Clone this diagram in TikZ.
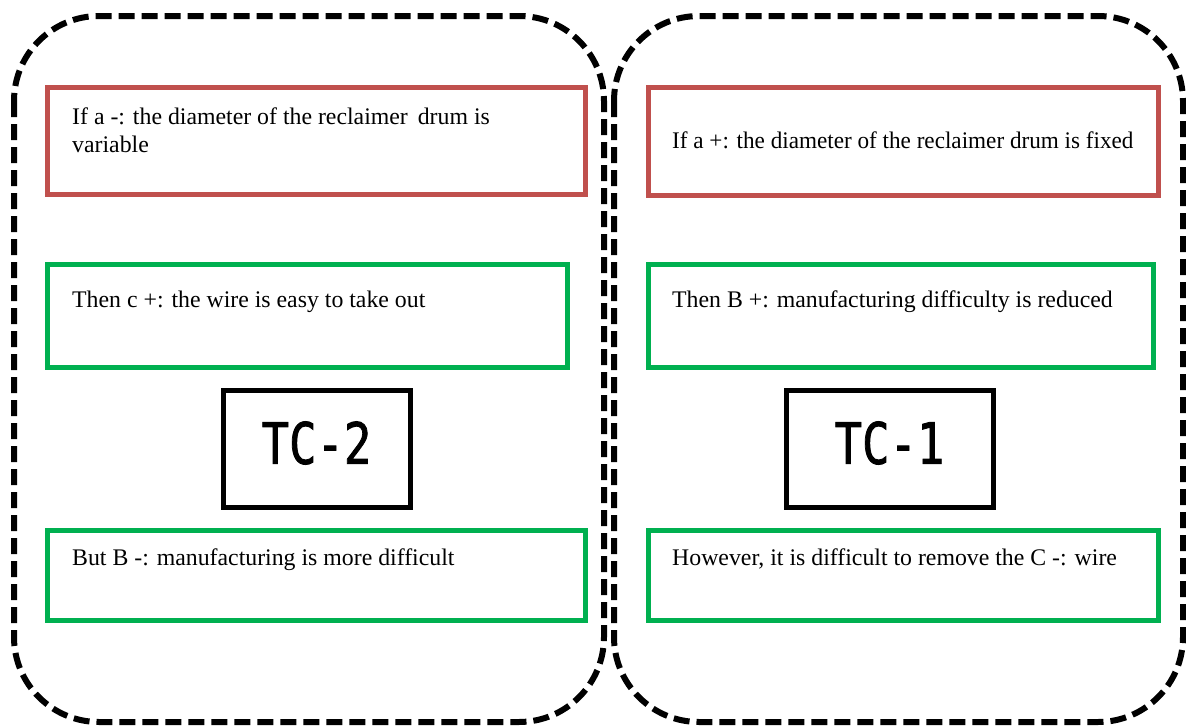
\documentclass[tikz,border=0pt]{standalone}
\usepackage{fontspec}
\setmainfont{Liberation Serif}
\newfontfamily\tcfont[FakeBold=1.6]{DejaVu Sans Mono}
\definecolor{ifred}{HTML}{C0504D}
\definecolor{thengreen}{HTML}{00B050}
\tikzset{
  group/.style={draw=black, line width=6pt, dash pattern=on 16pt off 7pt, rounded corners=85pt},
  ifbox/.style={draw=ifred, line width=5pt},
  thenbox/.style={draw=thengreen, line width=5pt},
  tcbox/.style={draw=black, line width=5pt},
  txt/.style={anchor=base west, inner sep=0pt, font=\fontsize{23.8}{28}\selectfont, align=left},
  tclabel/.style={inner sep=0pt, font=\tcfont\fontsize{57}{60}\selectfont}
}
\begin{document}
\begin{tikzpicture}[x=1pt, y=-1pt]
\useasboundingbox (0,0) rectangle (1186,726);
% two dashed groups
\draw[group] (14,16) rectangle (604,722);
\draw[group] (614,16) rectangle (1183,722);
% left group: TC-2
\draw[ifbox] (47,87) rectangle (585,194);
\node[txt] (l1) at (72,152) {If a -: the diameter of the reclaimer\, drum is\\variable};
\draw[thenbox] (47,264) rectangle (567,367);
\node[txt] (l2) at (72,307) {Then c +: the wire is easy to take out};
\draw[tcbox] (223,390) rectangle (410,507);
\node[tclabel] (tc2) at (316.5,443) {\scalebox{0.8}[1]{TC-2}};
\draw[thenbox] (47,530) rectangle (585,620);
\node[txt] (l3) at (72,565) {But B -: manufacturing is more difficult};
% right group: TC-1
\draw[ifbox] (648,87) rectangle (1158,195);
\node[txt] (r1) at (672,148) {\scalebox{0.973}[1]{If a +: the diameter of the reclaimer drum is fixed}};
\draw[thenbox] (648,264) rectangle (1153,367);
\node[txt] (r2) at (672,307) {Then B +: manufacturing difficulty is reduced};
\draw[tcbox] (786,390) rectangle (993,507);
\node[tclabel] (tc1) at (889.5,443) {\scalebox{0.8}[1]{TC-1}};
\draw[thenbox] (648,530) rectangle (1158,620);
\node[txt] (r3) at (672,565) {However, it is difficult to remove the C -: wire};
\end{tikzpicture}
\end{document}
